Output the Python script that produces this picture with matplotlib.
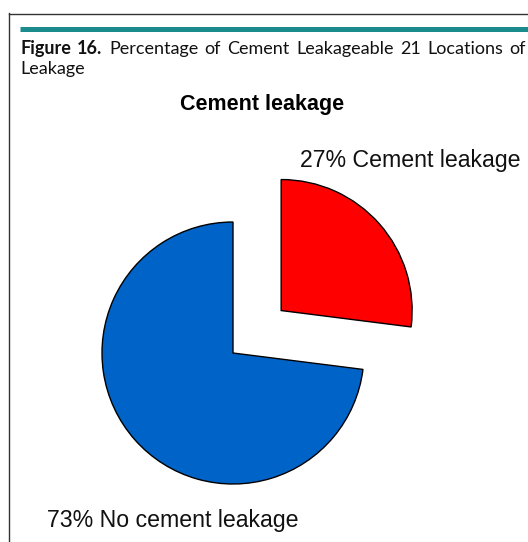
import matplotlib
matplotlib.use("Agg")
import matplotlib.pyplot as plt
from matplotlib.lines import Line2D

labels = ["27% Cement leakage", "73% No cement leakage"]
values = [27, 73]
colors = ["#FF0000", "#0063C8"]
explode_frac = [0.49, 0.0]

W, H = 528, 542
R = 131
fig = plt.figure(figsize=(W / 100, H / 100), dpi=100)
fig.patch.set_facecolor("white")

def fx(x):
    return x / W

def fy(y):
    return 1 - y / H

fig.add_artist(Line2D([fx(8.5), fx(8.5)], [fy(13), fy(545)], color="#333333", lw=1.0))
fig.add_artist(Line2D([fx(8.5), fx(530)], [fy(13.5), fy(13.5)], color="#333333", lw=1.0))
fig.add_artist(Line2D([fx(20), fx(530)], [fy(29), fy(29)], color="#1B8B8D", lw=3.6, solid_capstyle="butt"))

ax = fig.add_axes([0, 0, 1, 1])
ax.pie(values, colors=colors, explode=[e * R for e in explode_frac], startangle=90,
       counterclock=False, center=(233, H - 353), radius=R,
       wedgeprops=dict(edgecolor="black", linewidth=1.0))
ax.set_aspect("auto")
ax.set_xlim(0, W)
ax.set_ylim(0, H)
ax.axis("off")

fig.text(fx(262), fy(104), "Cement leakage", ha="center", va="center",
         fontsize=15.5, fontweight="bold", family="Liberation Sans")
fig.text(fx(300), fy(161), labels[0], ha="left", va="center",
         fontsize=16.7, family="Liberation Sans", color="#111111")
fig.text(fx(47), fy(521), labels[1], ha="left", va="center",
         fontsize=16.7, family="Liberation Sans", color="#111111")

line1 = [("Figure", "bold"), ("16.", "bold"), ("Percentage", "normal"), ("of", "normal"),
         ("Cement", "normal"), ("Leakageable", "normal"), ("21", "normal"),
         ("Locations", "normal"), ("of", "normal")]
fig.canvas.draw()
renderer = fig.canvas.get_renderer()
texts = []
for w, wt in line1:
    t = fig.text(0, fy(54), w, ha="left", va="baseline", fontsize=13,
                 fontweight=wt, family="Lato", color="#111111")
    texts.append(t)
widths = [t.get_window_extent(renderer).width for t in texts]
x0, x1 = 20, 526
gap = (x1 - x0 - sum(widths)) / (len(texts) - 1)
x = x0
for t, wdt in zip(texts, widths):
    t.set_x(fx(x))
    x += wdt + gap
fig.text(fx(20), fy(74), "Leakage", ha="left", va="baseline", fontsize=13,
         family="Lato", color="#111111")

fig.savefig("out.png", dpi=100, facecolor="white")
